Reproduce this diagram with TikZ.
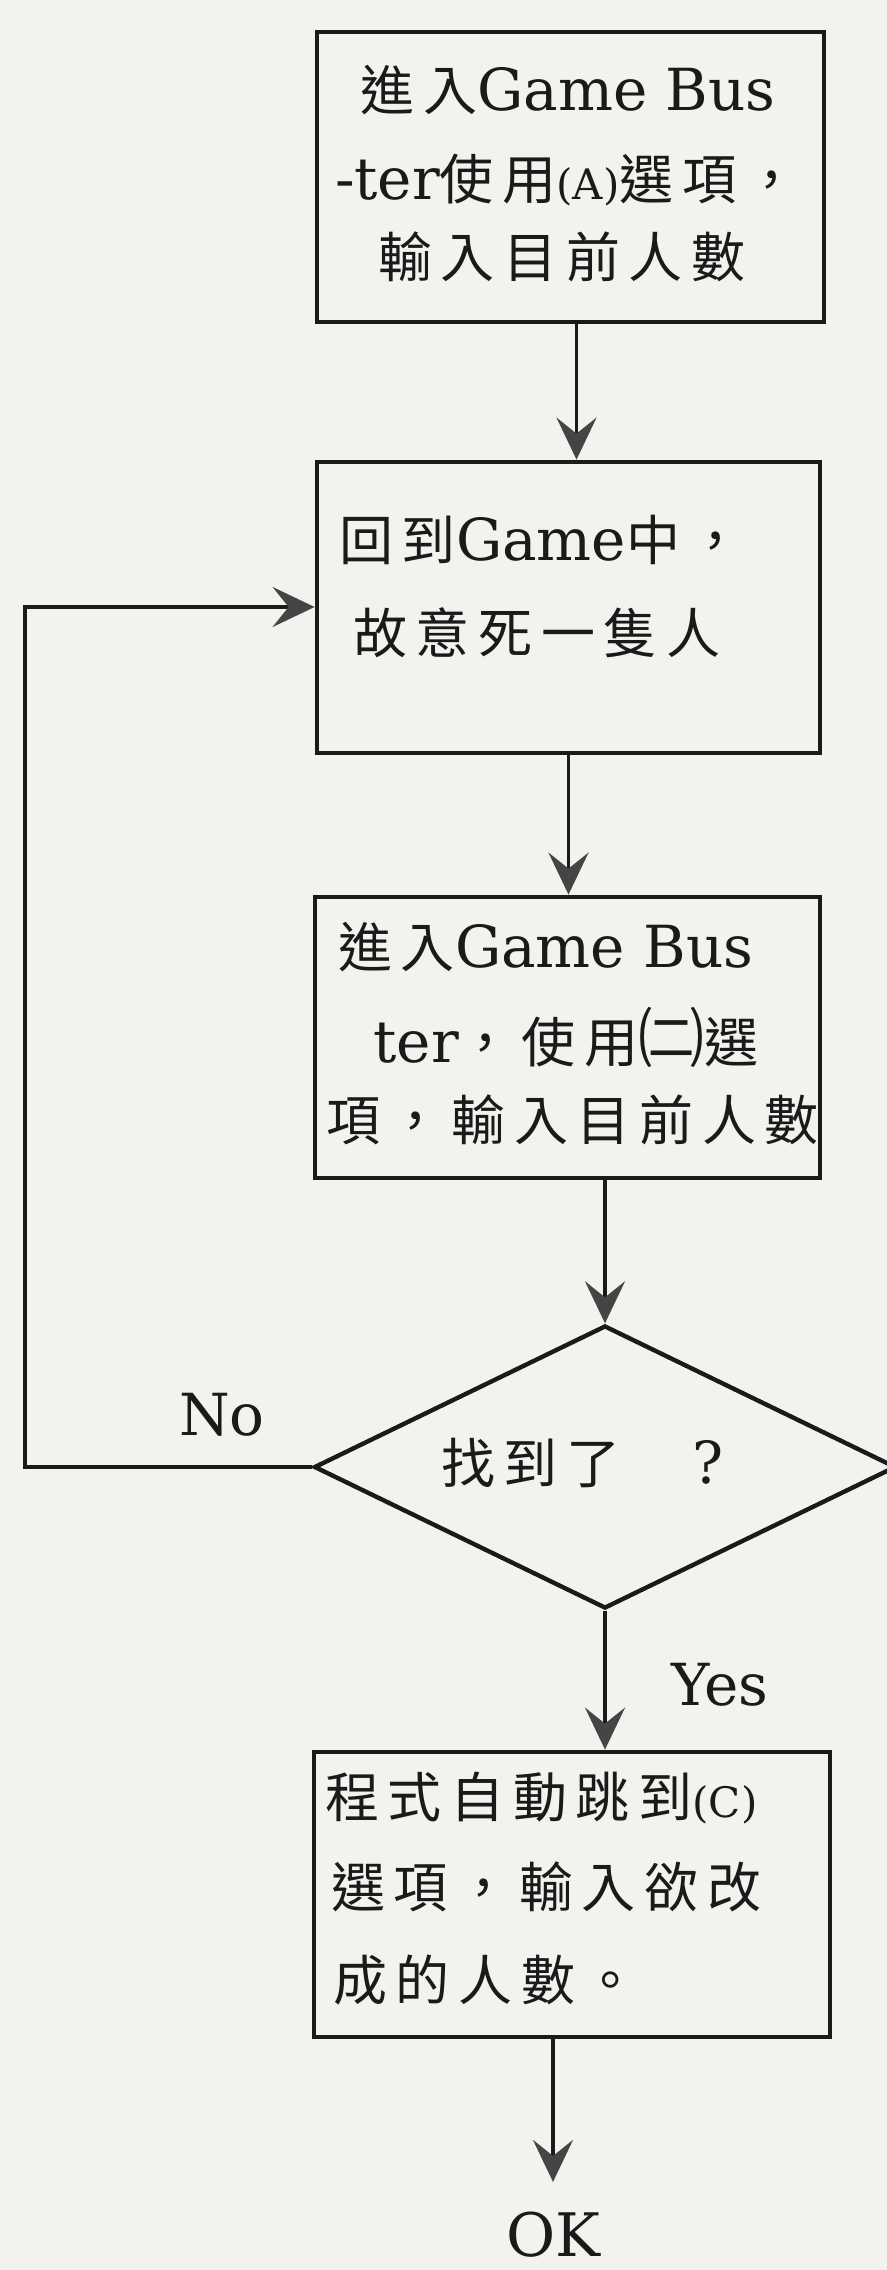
\documentclass[tikz,border=0pt]{standalone}
\usepackage{fontspec}
\setmainfont{DejaVu Serif}
\newfontfamily\cjkfont[LetterSpace=16]{Noto Sans CJK TC}
\usetikzlibrary{arrows.meta,shapes.geometric}
\newcommand{\zh}[1]{{\cjkfont\fontsize{27pt}{27pt}\selectfont #1}}
\newcommand{\zhbig}[1]{{\cjkfont\fontsize{33pt}{33pt}\selectfont #1}}
\newcommand{\smp}[1]{{\fontsize{21pt}{21pt}\selectfont #1}}
\definecolor{paper}{HTML}{F2F2EE}
\definecolor{ink}{HTML}{1A1A1A}
\definecolor{tipc}{HTML}{454545}
\begin{document}
\begin{tikzpicture}[x=0.5pt,y=-0.5pt,
  box/.style={draw=ink, line width=2.4pt, rectangle, inner sep=0pt},
  lt/.style={inner sep=0pt, anchor=west, text=ink, font=\fontsize{29pt}{29pt}\selectfont},
  ct/.style={inner sep=0pt, anchor=center, text=ink, font=\fontsize{29pt}{29pt}\selectfont},
  conn/.style={draw=ink, line width=1.8pt},
  arr/.style={conn, -{Stealth[length=21pt,width=20pt,inset=8pt,fill=tipc,color=tipc]}}]
\useasboundingbox (0,0) rectangle (887,2270);
\fill[paper] (0,0) rectangle (887,2270);

% boxes
\node[box, minimum width=253.5pt, minimum height=145pt] (b1) at (570.5,177) {};
\node[box, minimum width=251.5pt, minimum height=145.5pt] (b2) at (568.5,607.5) {};
\node[box, minimum width=252.5pt, minimum height=140.5pt] (b3) at (567.5,1037.5) {};
\node[draw=ink, line width=2.2pt, diamond, inner sep=0pt, minimum width=291pt, minimum height=141.5pt] (d) at (605,1467) {};
\node[box, minimum width=258pt, minimum height=142.5pt] (b4) at (572,1894.5) {};

% box texts
\node[ct] (t11) at (568,90) {\zh{進入}Game Bus};
\node[ct] (t12) at (567,180) {-ter\zh{使用}\smp{(A)}\zh{選項，}};
\node[ct] (t13) at (562,257) {\zh{輸入目前人數}};

\node[lt] (t21) at (339,540) {\zh{回到}Game\zh{中，}};
\node[lt] (t22) at (353,633) {\zh{故意死一隻人}};

\node[lt] (t31) at (338,947) {\zh{進入}Game Bus};
\node[lt] (t32) at (373,1037) {ter\zh{，使用}\zhbig{㈡}\zh{選}};
\node[lt] (t33) at (326,1120) {\zh{項，輸入目前人數}};

\node[lt] (dt) at (441,1463) {\zh{找到了}\hspace{36pt}?};

\node[lt] (t41) at (325,1798) {\zh{程式自動跳到}\smp{(C)}};
\node[lt] (t42) at (331,1887) {\zh{選項，輸入欲改}};
\node[lt] (t43) at (333,1980) {\zh{成的人數。}};

% labels
\node[ct] (no) at (222,1415) {No};
\node[ct] (yes) at (720,1685) {Yes};
\node[ct, font=\fontsize{30pt}{30pt}\selectfont] (ok) at (553,2235) {OK};

% connectors
\draw[arr] ([xshift=3pt]b1.south) -- ([xshift=3pt]b1.south |- b2.north);
\draw[arr] (b2.south) -- (b2.south |- b3.north);
\draw[arr] (b3.south -| d.north) -- (d.north);
\draw[arr] (d.south) -- (d.south |- b4.north);
\draw[arr, shorten >=15pt] (b4.south -| ok.north) -- (ok.north);
\coordinate (lb) at (25,1467);
\coordinate (lt) at (25,607);
\draw[arr] (d.west) -- (lb) -- (lt) -- (lt -| b2.west);
\end{tikzpicture}
\end{document}
